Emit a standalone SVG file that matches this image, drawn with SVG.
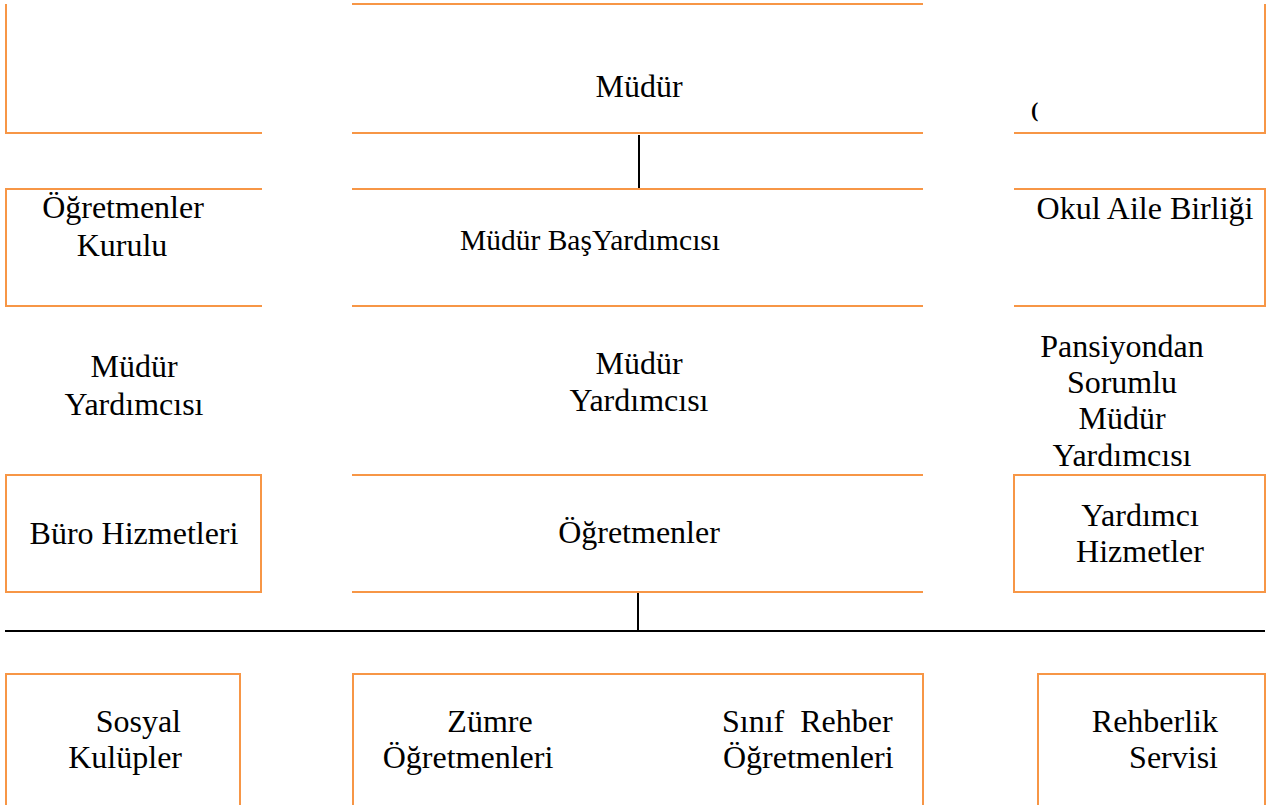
<svg xmlns="http://www.w3.org/2000/svg" width="1270" height="805" viewBox="0 0 1270 805">
<style>
.b{fill:none;stroke:#F79646;stroke-width:2}
.c{fill:none;stroke:#000;stroke-width:2}
.t text{font-family:'Liberation Serif','Times New Roman','DejaVu Serif',serif;font-size:32px;fill:#000}
.m{text-anchor:middle}
.e{text-anchor:end}
</style>
<rect width="1270" height="805" fill="#fff"/>
<g id="connectors">
<path class="c" d="M639,135 V189"/>
<path class="c" d="M638,592 V631"/>
<path class="c" d="M5,631 H1265"/>
</g>
<g class="t" font-family="Liberation Serif, Times New Roman, serif" font-size="32">
<g id="top-left"><path class="b" d="M6,4 V133 H262"/></g>
<g id="mudur">
<path class="b" d="M352,4 H923 M352,133 H923"/>
<text class="m" x="639" y="97">Müdür</text>
</g>
<g id="top-right">
<path class="b" d="M1014,133 H1265 V4"/>
<text x="1031" y="117" style="font-size:22px;font-weight:bold">(</text>
</g>
<g id="ogretmenler-kurulu">
<path class="b" d="M262,189 H6 V306 H262"/>
<text class="m" x="123" y="218">Öğretmenler</text>
<text class="m" x="122" y="256">Kurulu</text>
</g>
<g id="mudur-bas-yardimcisi">
<path class="b" d="M352,189 H923 M352,306 H923"/>
<text class="m" x="590" y="250" style="font-size:29.5px">Müdür BaşYardımcısı</text>
</g>
<g id="okul-aile-birligi">
<path class="b" d="M1014,189 H1265 V306 H1014"/>
<text class="m" x="1145" y="219">Okul Aile Birliği</text>
</g>
<g id="mudur-yardimcisi-sol">
<text class="m" x="134" y="377">Müdür</text>
<text class="m" x="134" y="415">Yardımcısı</text>
</g>
<g id="mudur-yardimcisi-orta">
<text class="m" x="639" y="374">Müdür</text>
<text class="m" x="639" y="411">Yardımcısı</text>
</g>
<g id="pansiyon-mudur-yardimcisi">
<text class="m" x="1122" y="357">Pansiyondan</text>
<text class="m" x="1122" y="393">Sorumlu</text>
<text class="m" x="1122" y="429">Müdür</text>
<text class="m" x="1122" y="466">Yardımcısı</text>
</g>
<g id="buro-hizmetleri">
<rect class="b" x="6" y="475" width="255" height="117"/>
<text class="m" x="134" y="544">Büro Hizmetleri</text>
</g>
<g id="ogretmenler">
<path class="b" d="M352,475 H923 M352,592 H923"/>
<text class="m" x="639" y="543">Öğretmenler</text>
</g>
<g id="yardimci-hizmetler">
<rect class="b" x="1014" y="475" width="251" height="117"/>
<text class="m" x="1140" y="526">Yardımcı</text>
<text class="m" x="1140" y="562">Hizmetler</text>
</g>
<g id="sosyal-kulupler">
<path class="b" d="M6,806 V674 H240 V806"/>
<text class="e" x="181" y="732">Sosyal</text>
<text class="e" x="182" y="768">Kulüpler</text>
</g>
<g id="zumre-sinif">
<path class="b" d="M353,806 V674 H923 V806"/>
<text class="m" x="490" y="732">Zümre</text>
<text class="m" x="468" y="768">Öğretmenleri</text>
<text x="722" y="732" xml:space="preserve">Sınıf  Rehber</text>
<text x="723" y="768">Öğretmenleri</text>
</g>
<g id="rehberlik-servisi">
<path class="b" d="M1038,806 V674 H1265 V806"/>
<text class="e" x="1218" y="732">Rehberlik</text>
<text class="e" x="1218" y="768">Servisi</text>
</g>
</g>
</svg>
